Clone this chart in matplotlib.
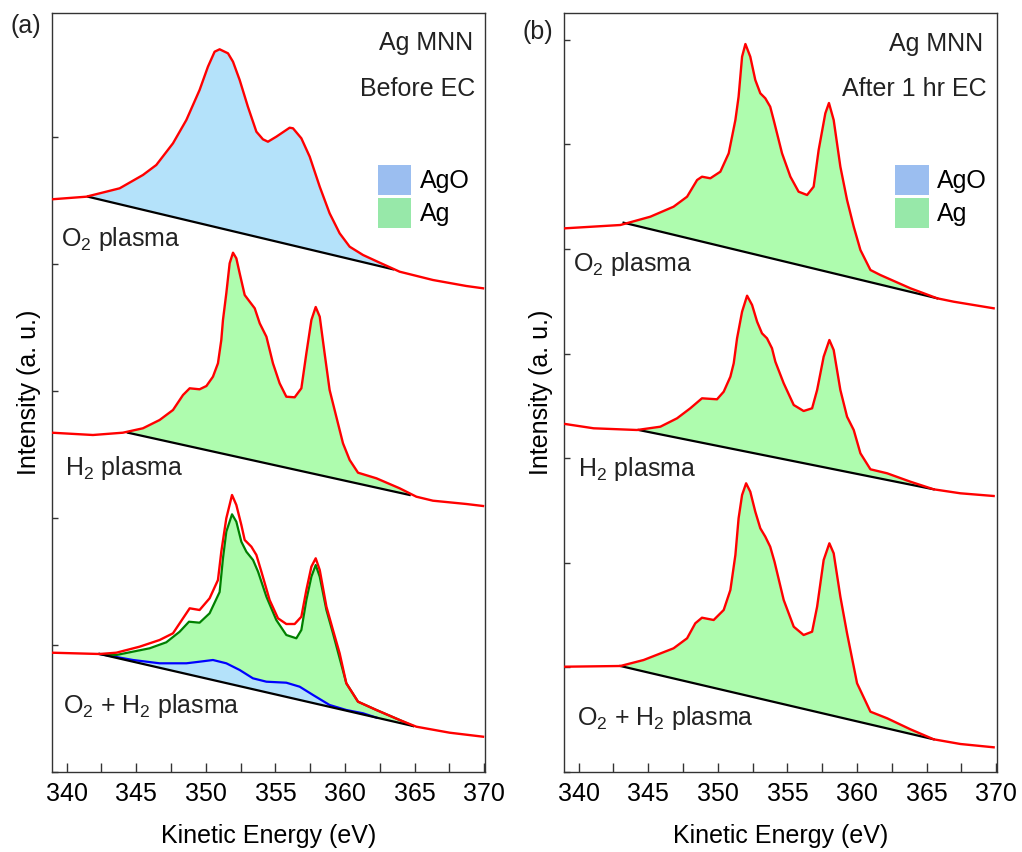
import numpy as np
import matplotlib
matplotlib.use("Agg")
import matplotlib.pyplot as plt
from matplotlib.patches import Patch
from matplotlib.ticker import MultipleLocator

plt.rcParams['font.family'] = ['Liberation Sans', 'DejaVu Sans']
plt.rcParams['mathtext.fontset'] = 'custom'
plt.rcParams['mathtext.rm'] = 'Liberation Sans'

# ---------------- Panel (a): before EC ----------------
a_o2_E = [338.94, 341.41, 343.81, 345.48, 346.44, 347.64, 348.60, 349.55, 350.15, 350.63,
          350.99, 351.59, 351.95, 352.43, 353.02, 353.63, 354.10, 354.46, 355.06, 356.02,
          356.26, 356.86, 357.46, 358.18, 358.89, 359.61, 360.33, 361.29, 362.49, 363.92,
          366.31, 368.71, 369.91]
a_o2_I = [572.7, 575.3, 583.7, 597.0, 607.0, 628.7, 652.0, 682.0, 705.3, 720.3,
          722.7, 718.7, 710.3, 692.0, 665.3, 640.3, 632.7, 630.3, 635.3, 644.3,
          643.7, 633.7, 615.3, 585.3, 558.7, 538.7, 525.3, 517.0, 509.3, 500.3,
          492.0, 486.0, 483.7]
a_o2_bg = [(341.53, 575.3), (363.44, 502.7)]

a_h2_E = [338.94, 341.89, 344.04, 345.48, 346.68, 347.64, 348.36, 348.84, 349.55, 350.04,
          350.51, 350.87, 351.11, 351.23, 351.47, 351.71, 351.95, 352.19, 352.43, 352.79,
          353.15, 353.51, 353.87, 354.35, 354.82, 355.30, 355.78, 356.38, 356.86, 357.22,
          357.58, 357.89, 358.18, 358.53, 358.89, 359.37, 359.85, 360.33, 360.93, 362.25,
          363.92, 365.12, 366.31, 368.71, 369.91]
a_h2_I = [339.3, 337.0, 339.3, 343.7, 352.0, 362.0, 377.0, 383.7, 382.7, 386.0,
          395.3, 408.7, 432.0, 452.0, 478.7, 508.7, 519.3, 513.7, 498.7, 477.0,
          470.3, 463.7, 448.7, 435.3, 408.7, 388.7, 375.3, 374.7, 383.7, 418.7,
          452.0, 465.0, 455.3, 418.7, 382.0, 355.3, 328.7, 312.0, 299.3, 293.7,
          283.7, 275.3, 271.3, 268.0, 266.0]
a_h2_bg = [(344.40, 339.3), (364.64, 277.0)]

a_mix_E = [338.94, 342.37, 343.57, 345.24, 346.68, 347.64, 348.36, 348.84, 349.55, 350.27,
           350.87, 351.11, 351.47, 351.88, 352.19, 352.55, 352.79, 353.27, 353.63, 353.99,
           354.58, 355.18, 355.78, 356.38, 356.86, 357.22, 357.58, 357.89, 358.18, 358.66,
           359.13, 359.61, 360.09, 360.93, 362.25, 363.92, 365.12, 367.51, 369.91]
a_mix_I = [119.3, 118.0, 119.3, 125.3, 132.0, 138.7, 153.7, 163.7, 162.0, 173.7,
           192.0, 220.3, 253.7, 277.0, 267.0, 247.0, 232.0, 225.3, 217.0, 200.3,
           172.0, 153.7, 148.0, 148.0, 155.3, 182.0, 205.3, 213.7, 202.0, 165.3,
           142.0, 118.7, 88.7, 70.3, 62.0, 52.0, 45.3, 39.3, 35.3]
a_mix_bg = [(342.37, 118.0), (364.88, 46.0)]

# Ag component envelope (on top of AgO + background)
a_mix_ag_E = [342.37, 343.57, 345.96, 347.16, 348.12, 348.79, 349.55, 350.27, 350.99, 351.23,
              351.47, 351.88, 352.19, 352.55, 352.91, 353.39, 353.75, 354.35, 355.06, 355.78,
              356.50, 356.86, 357.22, 357.58, 357.89, 358.18, 358.66, 359.13, 360.09, 360.93,
              362.25, 363.92, 364.88]
a_mix_ag_I = [118.0, 117.0, 123.7, 129.7, 140.3, 150.3, 149.3, 158.7, 180.0, 213.7,
              240.3, 257.7, 250.3, 230.3, 220.3, 212.0, 200.3, 175.3, 152.0, 137.0,
              133.7, 142.0, 172.0, 195.3, 207.0, 195.3, 162.0, 138.7, 88.7, 70.3,
              62.0, 52.0, 46.0]
# AgO component (on top of background)
a_mix_ago_E = [342.37, 344.77, 346.68, 348.60, 349.55, 350.51, 351.47, 352.43, 353.38, 354.35,
               355.78, 356.74, 357.70, 358.89, 360.09, 361.29, 362.25]
a_mix_ago_I = [118.0, 112.0, 108.7, 108.7, 110.3, 112.0, 108.7, 102.0, 93.7, 90.3,
               89.3, 85.3, 77.0, 67.0, 62.0, 58.7, 54.4]

# ---------------- Panel (b): after 1 hr EC ----------------
b_o2_E = [339.04, 343.00, 345.15, 346.82, 347.79, 348.51, 348.86, 349.46, 350.18, 350.78,
          351.26, 351.49, 351.74, 351.98, 352.33, 352.69, 353.05, 353.41, 353.76, 354.01,
          354.61, 355.21, 355.80, 356.41, 356.88, 357.24, 357.72, 357.98, 358.32, 358.80,
          359.28, 359.76, 360.24, 360.96, 361.67, 363.83, 365.75, 366.94, 369.81]
b_o2_I = [543.7, 547.0, 555.3, 565.3, 575.3, 592.0, 595.3, 593.7, 600.3, 618.7,
          652.0, 675.3, 715.3, 728.0, 715.3, 692.0, 678.7, 673.7, 665.3, 652.0,
          618.7, 595.3, 580.3, 577.0, 585.3, 622.0, 658.7, 669.0, 652.0, 605.3,
          572.0, 545.3, 522.0, 502.0, 497.0, 483.7, 473.7, 470.3, 463.7]
b_o2_bg = [(343.23, 549.3), (365.75, 473.7)]

b_h2_E = [339.04, 341.08, 344.20, 345.87, 347.07, 348.02, 348.86, 349.94, 350.42, 350.90,
          351.14, 351.38, 351.74, 352.10, 352.46, 352.82, 353.17, 353.53, 353.89, 354.13,
          354.73, 355.45, 356.16, 356.77, 357.13, 357.60, 358.01, 358.32, 358.80, 359.28,
          359.76, 360.24, 360.96, 362.16, 363.83, 365.50, 367.42, 369.81]
b_h2_I = [348.0, 343.7, 342.0, 345.3, 353.7, 363.7, 373.7, 372.7, 380.3, 395.3,
          408.7, 433.7, 460.3, 476.3, 467.0, 450.3, 438.7, 433.7, 423.7, 410.3,
          388.7, 367.0, 361.0, 363.7, 382.0, 415.3, 432.0, 422.0, 382.0, 355.3,
          342.0, 318.7, 302.7, 298.7, 290.3, 282.7, 278.7, 276.0]
b_h2_bg = [(344.31, 342.0), (365.50, 282.7)]

b_mix_E = [339.04, 343.00, 344.67, 346.82, 347.79, 348.38, 348.86, 349.70, 350.42, 350.90,
           351.26, 351.49, 351.74, 352.03, 352.33, 352.69, 353.05, 353.41, 353.76, 354.07,
           354.73, 355.45, 356.16, 356.77, 357.13, 357.60, 358.01, 358.32, 358.80, 359.28,
           360.00, 360.96, 362.16, 363.83, 365.50, 367.42, 369.81]
b_mix_I = [105.3, 106.0, 112.0, 123.7, 133.7, 148.7, 154.3, 152.0, 162.0, 182.0,
           217.0, 253.7, 277.0, 288.7, 280.3, 260.3, 243.7, 235.3, 225.3, 210.3,
           172.0, 145.3, 137.0, 140.3, 165.3, 212.0, 228.7, 218.7, 175.3, 138.7,
           88.7, 60.3, 53.7, 42.7, 32.7, 28.0, 24.7]
b_mix_bg = [(343.00, 106.0), (365.50, 32.7)]

sample_labels = [r'O$_2$ plasma', r'H$_2$ plasma', r'O$_2$ + H$_2$ plasma']
legend_labels = ['AgO', 'Ag']
x_ticks = [340, 345, 350, 355, 360, 365, 370]

# ---------------- styles ----------------
FS = 18
RED = '#ff0000'
FILL_BLUE = '#b4e2fa'
FILL_GREEN = '#aefcae'
LEG_BLUE = '#9bbef0'
LEG_GREEN = '#97e8a9'
SPINE = '#333333'

fig = plt.figure(figsize=(10.22, 8.52), dpi=100)
W, H = 1022, 852
axA = fig.add_axes([52 / W, 1 - 772 / H, 433 / W, 759 / H])
axB = fig.add_axes([564 / W, 1 - 772 / H, 433 / W, 759 / H])


def fill_component(ax, E, I, bg, color):
    (e0, b0), (e1, b1) = bg
    x = np.linspace(e0, e1, 600)
    top = np.interp(x, E, I)
    bot = np.interp(x, [e0, e1], [b0, b1])
    ax.fill_between(x, bot, np.maximum(top, bot), color=color, lw=0, zorder=1)


def draw_bg(ax, bg):
    (e0, b0), (e1, b1) = bg
    ax.plot([e0, e1], [b0, b1], color='black', lw=1.6, zorder=3)


def style(ax, ytick_step):
    ax.set_xlim(338.95, 370.05)
    ax.set_ylim(0, 759)
    ax.set_xticks(x_ticks)
    ax.xaxis.set_minor_locator(MultipleLocator(2.5))
    ax.yaxis.set_major_locator(MultipleLocator(ytick_step))
    ax.set_yticklabels([])
    ax.tick_params(axis='x', which='both', direction='in', length=6.5, width=1,
                   labelsize=FS, pad=7, color=SPINE, top=False)
    ax.tick_params(axis='y', which='both', direction='in', length=4, width=1,
                   labelleft=False, right=False, color=SPINE)
    for s in ax.spines.values():
        s.set_color(SPINE)
        s.set_linewidth(1.0)
    ax.set_xlabel('Kinetic Energy (eV)', fontsize=FS, labelpad=13)
    ax.set_ylabel('Intensity (a. u.)', fontsize=FS, labelpad=8)
    handles = [Patch(facecolor=LEG_BLUE, edgecolor='none'),
               Patch(facecolor=LEG_GREEN, edgecolor='none')]
    return handles


# ----- panel (a)
fill_component(axA, a_o2_E, a_o2_I, a_o2_bg, FILL_BLUE)
fill_component(axA, a_h2_E, a_h2_I, a_h2_bg, FILL_GREEN)
# mixed: AgO region then Ag region
(e0, b0), (e1, b1) = a_mix_bg
xs = np.linspace(e0, e1, 600)
bgline = np.interp(xs, [e0, e1], [b0, b1])
ago = np.interp(xs, a_mix_ago_E, a_mix_ago_I, right=np.nan)
ago = np.where(np.isnan(ago), bgline, np.maximum(ago, bgline))
ag = np.interp(xs, a_mix_ag_E, a_mix_ag_I)
axA.fill_between(xs, bgline, ago, color=FILL_BLUE, lw=0, zorder=1)
axA.fill_between(xs, ago, np.maximum(ag, ago), color=FILL_GREEN, lw=0, zorder=1)
axA.plot(a_mix_ago_E, a_mix_ago_I, color='#0000ff', lw=1.6, zorder=3)
axA.plot(a_mix_ag_E, a_mix_ag_I, color='#008000', lw=1.6, zorder=3)

for bg in (a_o2_bg, a_h2_bg, a_mix_bg):
    draw_bg(axA, bg)
for E, I in ((a_o2_E, a_o2_I), (a_h2_E, a_h2_I), (a_mix_E, a_mix_I)):
    axA.plot(E, I, color=RED, lw=1.7, zorder=4)

hA = style(axA, 127)

# ----- panel (b)
fill_component(axB, b_o2_E, b_o2_I, b_o2_bg, FILL_GREEN)
fill_component(axB, b_h2_E, b_h2_I, b_h2_bg, FILL_GREEN)
fill_component(axB, b_mix_E, b_mix_I, b_mix_bg, FILL_GREEN)
for bg in (b_o2_bg, b_h2_bg, b_mix_bg):
    draw_bg(axB, bg)
for E, I in ((b_o2_E, b_o2_I), (b_h2_E, b_h2_I), (b_mix_E, b_mix_I)):
    axB.plot(E, I, color=RED, lw=1.7, zorder=4)

hB = style(axB, 104.6)

# ----- texts
txt_kw = dict(fontsize=FS, color='#222222')
axA.text(0.021, 0.693, sample_labels[0], transform=axA.transAxes, va='baseline', ha='left', **txt_kw)
axA.text(0.030, 0.391, sample_labels[1], transform=axA.transAxes, va='baseline', ha='left', **txt_kw)
axA.text(0.025, 0.078, sample_labels[2], transform=axA.transAxes, va='baseline', ha='left', **txt_kw)
axA.text(0.973, 0.951, 'Ag MNN', transform=axA.transAxes, va='baseline', ha='right', **txt_kw)
axA.text(0.977, 0.891, 'Before EC', transform=axA.transAxes, va='baseline', ha='right', **txt_kw)

axB.text(0.021, 0.660, sample_labels[0], transform=axB.transAxes, va='baseline', ha='left', **txt_kw)
axB.text(0.033, 0.390, sample_labels[1], transform=axB.transAxes, va='baseline', ha='left', **txt_kw)
axB.text(0.029, 0.062, sample_labels[2], transform=axB.transAxes, va='baseline', ha='left', **txt_kw)
axB.text(0.968, 0.950, 'Ag MNN', transform=axB.transAxes, va='baseline', ha='right', **txt_kw)
axB.text(0.976, 0.891, 'After 1 hr EC', transform=axB.transAxes, va='baseline', ha='right', **txt_kw)

fig.text(10 / W, 1 - 14 / H, '(a)', fontsize=FS, va='top', ha='left', color='#222222')
fig.text(522 / W, 1 - 20 / H, '(b)', fontsize=FS, va='top', ha='left', color='#222222')

for ax, h, x0 in ((axA, hA, 0.752), (axB, hB, 0.764)):
    ax.legend(h, legend_labels, loc='upper left', bbox_to_anchor=(x0, 0.80),
              frameon=False, fontsize=FS, handlelength=1.35, handleheight=1.5,
              handletextpad=0.35, labelspacing=0.1, borderpad=0, borderaxespad=0)

fig.savefig('out.png', dpi=100)
